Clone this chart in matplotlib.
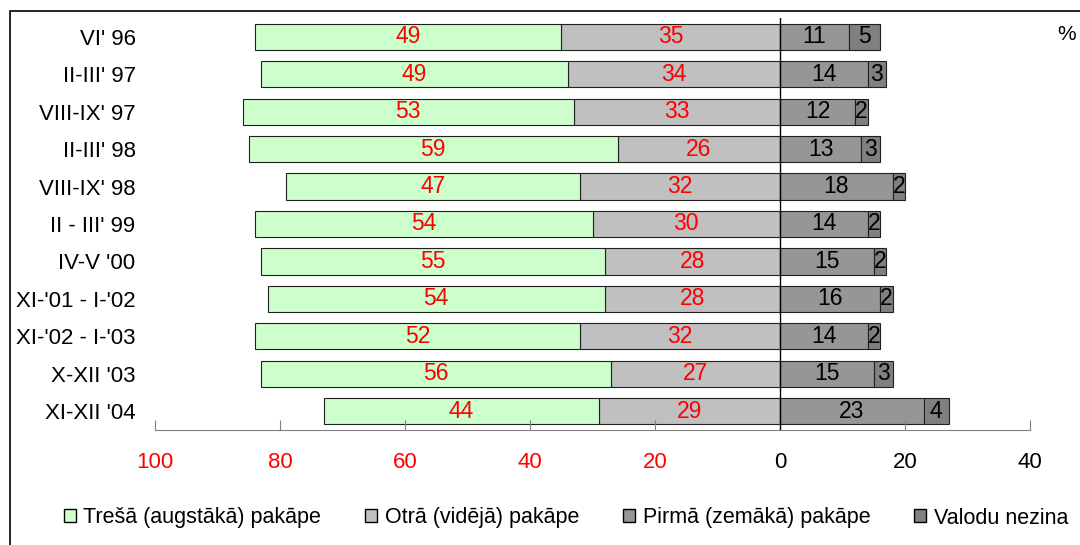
import matplotlib
matplotlib.use("Agg")
import matplotlib.pyplot as plt
from matplotlib.patches import Patch, Rectangle

plt.rcParams['font.family'] = ['Liberation Sans', 'DejaVu Sans']

periods = ["VI' 96", "II-III' 97", "VIII-IX' 97", "II-III' 98", "VIII-IX' 98",
           "II - III' 99", "IV-V '00", "XI-'01 - I-'02", "XI-'02 - I-'03",
           "X-XII '03", "XI-XII '04"]
tresa = [49, 49, 53, 59, 47, 54, 55, 54, 52, 56, 44]
otra = [35, 34, 33, 26, 32, 30, 28, 28, 32, 27, 29]
pirma = [11, 14, 12, 13, 18, 14, 15, 16, 14, 15, 23]
valodu = [5, 3, 2, 3, 2, 2, 2, 2, 2, 3, 4]

tick_vals = [-100, -80, -60, -40, -20, 0, 20, 40]
tick_labels = ["100", "80", "60", "40", "20", "0", "20", "40"]

legend_names = ["Trešā (augstākā) pakāpe", "Otrā (vidējā) pakāpe",
                "Pirmā (zemākā) pakāpe", "Valodu nezina"]
colors = ["#CCFFCC", "#C0C0C0", "#969696", "#808080"]

fig = plt.figure(figsize=(10.8, 5.45), dpi=100)
ax = fig.add_axes([155 / 1080, 115 / 545, 875 / 1080, 412 / 545])

y = list(range(len(periods)))
h = 0.7
edge = "#202020"

b_otra = ax.barh(y, [-v for v in otra], height=h, color=colors[1], edgecolor=edge, lw=0.8)
b_tresa = ax.barh(y, [-v for v in tresa], left=[-v for v in otra], height=h,
                  color=colors[0], edgecolor=edge, lw=0.8)
b_pirma = ax.barh(y, pirma, height=h, color=colors[2], edgecolor=edge, lw=0.8)
b_val = ax.barh(y, valodu, left=pirma, height=h, color=colors[3], edgecolor=edge, lw=0.8)

ax.bar_label(b_tresa, labels=[str(v) for v in tresa], label_type='center', color='red', fontsize=16.5)
ax.bar_label(b_otra, labels=[str(v) for v in otra], label_type='center', color='red', fontsize=16.5)
ax.bar_label(b_pirma, labels=[str(v) for v in pirma], label_type='center', color='black', fontsize=16.5)
ax.bar_label(b_val, labels=[str(v) for v in valodu], label_type='center', color='black', fontsize=16.5)

ax.axvline(0, color='black', lw=1)

ax.set_xlim(-100, 40)
ax.set_ylim(len(periods) - 0.5, -0.5)
ax.set_yticks(y)
ax.set_yticklabels(periods, fontsize=16)
ax.tick_params(axis='y', length=0, pad=14)
ax.set_xticks(tick_vals)
ax.set_xticklabels(tick_labels, fontsize=16)
ax.tick_params(axis='x', direction='in', length=7, color='#808080', pad=16)
for lbl, v in zip(ax.get_xticklabels(), tick_vals):
    lbl.set_color('red' if v < 0 else 'black')

for s in ['top', 'left', 'right']:
    ax.spines[s].set_visible(False)
ax.spines['bottom'].set_color('#808080')

ax.text(1.042, 0.96, "%", transform=ax.transAxes, fontsize=15, ha='center', va='center', clip_on=False)

# chart frame
fig.patches.append(Rectangle((10 / 1080, -1), 2, 1 + 534 / 545, transform=fig.transFigure,
                             fill=False, edgecolor='black', lw=1.2))

handles = [Patch(facecolor=c, edgecolor='black', lw=1) for c in colors]
fig.legend(handles, legend_names, loc='center', bbox_to_anchor=(566 / 1080, 27 / 545),
           ncol=4, frameon=False, fontsize=15.5, handlelength=0.55, handleheight=0.55,
           handletextpad=0.35, columnspacing=2.05)

fig.savefig("out.png", dpi=100)
